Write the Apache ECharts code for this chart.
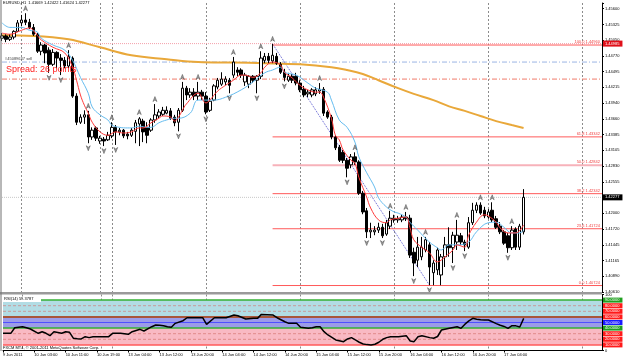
<!DOCTYPE html>
<html>
<head>
<meta charset="utf-8">
<script src="https://cdn.jsdelivr.net/npm/echarts@6.0.0/dist/echarts.min.js"></script>
<style>
  html, body { margin: 0; padding: 0; background: #fff; }
  #chart { width: 625px; height: 361px; }
</style>
</head>
<body>
<div id="chart"></div>
<script>
// EURUSD H1, 9 - 17 Jun 2011

const timeLabels = ['9 Jun 2011', '10 Jun 03:00', '10 Jun 11:00', '10 Jun 19:00', '13 Jun 04:00', '13 Jun 12:00',
  '13 Jun 20:00', '14 Jun 04:00', '14 Jun 12:00', '14 Jun 20:00', '15 Jun 04:00', '15 Jun 12:00',
  '15 Jun 20:00', '16 Jun 04:00', '16 Jun 12:00', '16 Jun 20:00', '17 Jun 04:00'];

// right scale labels, bottom to top
const priceTicks = ['1.40610', '1.40890', '1.41165', '1.41445', '1.41720', '1.42000', '1.42280', '1.42555',
  '1.42830', '1.43105', '1.43385', '1.43660', '1.43940', '1.44215', '1.44495', '1.44770', '1.45050',
  '1.45325', '1.45600'];

const opens = [
  1.4508, 1.4512, 1.4506, 1.4510, 1.4520, 1.4535, 1.4540, 1.4536, 1.4527, 1.4515,
  1.4485, 1.4496, 1.4487, 1.4462, 1.4483, 1.4473, 1.4469, 1.4459, 1.4473, 1.4406,
  1.4360, 1.4369, 1.4373, 1.4334, 1.4350, 1.4327, 1.4330, 1.4329, 1.4336, 1.4351,
  1.4343, 1.4346, 1.4339, 1.4337, 1.4344, 1.4357, 1.4362, 1.4351, 1.4346, 1.4364,
  1.4371, 1.4374, 1.4376, 1.4380, 1.4369, 1.4360, 1.4381, 1.4420, 1.4408, 1.4413,
  1.4406, 1.4413, 1.4406, 1.4381, 1.4399, 1.4422, 1.4427, 1.4431, 1.4434, 1.4443,
  1.4452, 1.4452, 1.4431, 1.4427, 1.4441, 1.4434, 1.4441, 1.4469, 1.4476, 1.4468,
  1.4476, 1.4462, 1.4448, 1.4434, 1.4441, 1.4441, 1.4429, 1.4418, 1.4410, 1.4408,
  1.4410, 1.4415, 1.4418, 1.4378, 1.4369, 1.4334, 1.4316, 1.4307, 1.4293, 1.4285,
  1.4299, 1.4290, 1.4235, 1.4204, 1.4167, 1.4167, 1.4170, 1.4175, 1.4163, 1.4177,
  1.4191, 1.4188, 1.4188, 1.4193, 1.4191, 1.4131, 1.4117, 1.4123, 1.4135, 1.4144,
  1.4095, 1.4100, 1.4091, 1.4123, 1.4144, 1.4139, 1.4149, 1.4160, 1.4149, 1.4140,
  1.4183, 1.4205, 1.4214, 1.4205, 1.4193, 1.4205, 1.4190, 1.4177, 1.4167, 1.4160,
  1.4139, 1.4172, 1.4140, 1.41669];
const closes = [
  1.4512, 1.4506, 1.4510, 1.4520, 1.4535, 1.4540, 1.4536, 1.4527, 1.4515, 1.4485,
  1.4496, 1.4482, 1.4462, 1.4483, 1.4473, 1.4469, 1.4459, 1.4476, 1.4406, 1.4360,
  1.4369, 1.4373, 1.4334, 1.4346, 1.4332, 1.4332, 1.4327, 1.4337, 1.4351, 1.4343,
  1.4346, 1.4336, 1.4336, 1.4346, 1.4359, 1.4366, 1.4343, 1.4337, 1.4364, 1.4373,
  1.4378, 1.4381, 1.4381, 1.4367, 1.4359, 1.4381, 1.4420, 1.4408, 1.4413, 1.4406,
  1.4413, 1.4406, 1.4378, 1.4397, 1.4424, 1.4434, 1.4436, 1.4436, 1.4425, 1.4466,
  1.4448, 1.4443, 1.4443, 1.4441, 1.4434, 1.4441, 1.4473, 1.4476, 1.4469, 1.4478,
  1.4464, 1.4448, 1.4439, 1.4441, 1.4434, 1.4429, 1.4417, 1.4408, 1.4413, 1.4417,
  1.4417, 1.4418, 1.4376, 1.4369, 1.4334, 1.4315, 1.4293, 1.4293, 1.4279, 1.4299,
  1.4290, 1.4235, 1.4202, 1.4167, 1.4170, 1.4170, 1.4175, 1.4160, 1.4183, 1.4191,
  1.4188, 1.4190, 1.4193, 1.4190, 1.4126, 1.4112, 1.4140, 1.4140, 1.4153, 1.4105,
  1.4112, 1.4135, 1.4123, 1.4144, 1.4139, 1.4161, 1.4161, 1.4149, 1.4144, 1.4183,
  1.4205, 1.4214, 1.4200, 1.4195, 1.4202, 1.4188, 1.4175, 1.4167, 1.4147, 1.4139,
  1.4170, 1.4140, 1.4177, 1.42277];
const lows = [
  1.4503, 1.4501, 1.4503, 1.4506, 1.4519, 1.4529, 1.4531, 1.4524, 1.4512, 1.4482,
  1.4478, 1.4464, 1.4447, 1.4459, 1.4455, 1.4443, 1.4455, 1.4455, 1.4403, 1.4355,
  1.4357, 1.4357, 1.4323, 1.4329, 1.4327, 1.4322, 1.4318, 1.4327, 1.4332, 1.4320,
  1.4337, 1.4332, 1.4330, 1.4334, 1.4323, 1.4318, 1.4325, 1.4323, 1.4343, 1.4359,
  1.4367, 1.4371, 1.4374, 1.4364, 1.4353, 1.4344, 1.4378, 1.4399, 1.4403, 1.4399,
  1.4399, 1.4399, 1.4374, 1.4378, 1.4397, 1.4418, 1.4424, 1.4425, 1.4411, 1.4438,
  1.4441, 1.4438, 1.4424, 1.4420, 1.4429, 1.4411, 1.4436, 1.4464, 1.4464, 1.4464,
  1.4461, 1.4445, 1.4432, 1.4431, 1.4429, 1.4425, 1.4413, 1.4404, 1.4404, 1.4404,
  1.4406, 1.4410, 1.4371, 1.4366, 1.4330, 1.4311, 1.4290, 1.4288, 1.4263, 1.4279,
  1.4285, 1.4232, 1.4198, 1.4156, 1.4156, 1.4161, 1.4165, 1.4156, 1.4160, 1.4172,
  1.4183, 1.4183, 1.4184, 1.4186, 1.4121, 1.4089, 1.4105, 1.4117, 1.4131, 1.4073,
  1.4073, 1.4091, 1.4073, 1.4105, 1.4123, 1.4112, 1.4135, 1.4144, 1.4133, 1.4137,
  1.4179, 1.4200, 1.4197, 1.4191, 1.4190, 1.4184, 1.4172, 1.4163, 1.4144, 1.4130,
  1.4135, 1.4135, 1.4135, 1.41624];
const highs = [
  1.4517, 1.4515, 1.4515, 1.4522, 1.4540, 1.4549, 1.4552, 1.4542, 1.4533, 1.4517,
  1.4501, 1.4498, 1.4492, 1.4489, 1.4485, 1.4480, 1.4475, 1.4487, 1.4476, 1.4411,
  1.4374, 1.4381, 1.4380, 1.4351, 1.4353, 1.4336, 1.4334, 1.4343, 1.4360, 1.4355,
  1.4350, 1.4348, 1.4343, 1.4350, 1.4364, 1.4369, 1.4366, 1.4360, 1.4367, 1.4392,
  1.4383, 1.4387, 1.4388, 1.4385, 1.4373, 1.4385, 1.4431, 1.4424, 1.4420, 1.4420,
  1.4431, 1.4417, 1.4413, 1.4403, 1.4427, 1.4438, 1.4448, 1.4441, 1.4438, 1.4475,
  1.4457, 1.4455, 1.4447, 1.4443, 1.4443, 1.4443, 1.4485, 1.4482, 1.4482, 1.4498,
  1.4482, 1.4466, 1.4454, 1.4447, 1.4445, 1.4447, 1.4434, 1.4424, 1.4417, 1.4420,
  1.4422, 1.4429, 1.4422, 1.4381, 1.4373, 1.4337, 1.4320, 1.4311, 1.4297, 1.4304,
  1.4307, 1.4293, 1.4239, 1.4209, 1.4183, 1.4177, 1.4183, 1.4181, 1.4188, 1.4204,
  1.4197, 1.4195, 1.4198, 1.4202, 1.4197, 1.4139, 1.4158, 1.4158, 1.4158, 1.4149,
  1.4117, 1.4139, 1.4128, 1.4158, 1.4175, 1.4167, 1.4188, 1.4165, 1.4153, 1.4193,
  1.4218, 1.4219, 1.4219, 1.4211, 1.4207, 1.4219, 1.4195, 1.4184, 1.4170, 1.4165,
  1.4177, 1.4175, 1.4181, 1.42422];

// moving averages, read at sampled bars
const fastMaBars = [0, 2, 5, 7, 9, 10, 13, 16, 18, 19, 20, 21, 22, 23, 25, 27, 29, 31, 33, 35, 36, 38, 40, 41, 43, 44,
  45, 46, 47, 50, 52, 53, 55, 57, 59, 61, 62, 64, 66, 67, 69, 71, 72, 74, 76, 78, 80, 81, 82, 84, 85, 86, 87, 89, 90,
  91, 93, 94, 96, 98, 99, 101, 103, 104, 105, 107, 109, 111, 113, 115, 116, 118, 119, 121, 123, 124, 126, 127, 129,
  131, 133];
const fastMa = [1.4517, 1.4515, 1.4522, 1.4526, 1.4513, 1.4505, 1.4492, 1.4482, 1.4457, 1.4434, 1.4408, 1.4390,
  1.4376, 1.4360, 1.4343, 1.4337, 1.4343, 1.4341, 1.4343, 1.4350, 1.4350, 1.4359, 1.4367, 1.4371, 1.4369, 1.4362,
  1.4369, 1.4381, 1.4392, 1.4411, 1.4394, 1.4399, 1.4415, 1.4425, 1.4434, 1.4443, 1.4443, 1.4439, 1.4447, 1.4457,
  1.4466, 1.4461, 1.4448, 1.4438, 1.4425, 1.4417, 1.4413, 1.4413, 1.4404, 1.4367, 1.4337, 1.4329, 1.4311, 1.4293,
  1.4288, 1.4263, 1.4228, 1.4209, 1.4188, 1.4183, 1.4188, 1.4191, 1.4193, 1.4175, 1.4153, 1.4140, 1.4130, 1.4114,
  1.4123, 1.4135, 1.4144, 1.4140, 1.4161, 1.4184, 1.4197, 1.4195, 1.4184, 1.4174, 1.4165, 1.4165, 1.4179];
const slowMaBars = [0, 2, 5, 7, 9, 10, 13, 16, 18, 20, 22, 23, 25, 27, 28, 30, 32, 33, 35, 37, 38, 40, 42, 44, 45, 48,
  50, 54, 57, 61, 64, 67, 69, 71, 72, 75, 78, 80, 83, 84, 86, 88, 90, 91, 93, 95, 96, 98, 100, 101, 103, 104, 106,
  109, 111, 112, 114, 116, 119, 121, 124, 126, 128, 130, 132, 133];
const slowMa = [1.4535, 1.4527, 1.4527, 1.4522, 1.4519, 1.4508, 1.4496, 1.4487, 1.4469, 1.4439, 1.4411, 1.4387,
  1.4373, 1.4364, 1.4355, 1.4351, 1.4350, 1.4350, 1.4353, 1.4351, 1.4351, 1.4359, 1.4364, 1.4367, 1.4367, 1.4376,
  1.4399, 1.4399, 1.4404, 1.4417, 1.4431, 1.4447, 1.4452, 1.4457, 1.4448, 1.4443, 1.4429, 1.4420, 1.4413, 1.4399,
  1.4364, 1.4351, 1.4325, 1.4299, 1.4271, 1.4246, 1.4227, 1.4211, 1.4202, 1.4200, 1.4193, 1.4184, 1.4170, 1.4149,
  1.4139, 1.4135, 1.4144, 1.4144, 1.4149, 1.4167, 1.4183, 1.4184, 1.4175, 1.4165, 1.4165, 1.4170];
const longMaBars = [0, 8, 17, 25, 33, 42, 50, 59, 67, 76, 84, 88, 92, 96, 101, 105, 110, 114, 118, 122, 126, 130, 133];
const longMa = [1.4513, 1.4512, 1.4506, 1.4492, 1.4478, 1.4471, 1.4466, 1.4465, 1.4464, 1.4462, 1.4457, 1.4452,
  1.4445, 1.4434, 1.4420, 1.4410, 1.4399, 1.4388, 1.4380, 1.4371, 1.4362, 1.4355, 1.4350];

// fractal bars
const fractalUp = [6, 17, 22, 28, 35, 39, 46, 50, 59, 66, 69, 81, 90, 99, 103, 108, 116, 122, 125, 130];
const fractalDown = [12, 15, 22, 26, 29, 45, 52, 58, 65, 72, 88, 93, 97, 105, 109, 115, 118, 129];

// fibonacci retracement
const fibStart = 69, fibEnd = 109;
const fibPct = ['0.0', '23.6', '38.2', '50.0', '61.8', '100.0'];
const fibPrice = [1.40724, 1.41724, 1.42342, 1.42842, 1.43342, 1.44960];

// horizontal objects
const alertPrice = 1.44985;
const orderPrice = 1.4466;
const stopPrice = 1.4436;
const lastPrice = 1.42277;

// RSI(14)
const rsiBars = [0, 2, 3, 5, 6, 7, 9, 10, 11, 12, 13, 15, 16, 17, 18, 19, 20, 21, 22, 23, 25, 27, 28, 30, 32, 33, 35,
  36, 38, 39, 40, 41, 42, 43, 44, 46, 47, 50, 51, 52, 54, 57, 59, 60, 62, 64, 65, 66, 69, 70, 72, 73, 75, 76, 78, 79,
  80, 81, 82, 83, 85, 87, 88, 89, 90, 91, 92, 93, 94, 95, 96, 97, 98, 99, 101, 103, 104, 105, 106, 107, 109, 110,
  111, 112, 114, 116, 117, 118, 119, 120, 121, 122, 123, 124, 126, 127, 128, 129, 130, 131, 132, 133];
const rsiValues = [30.7, 30.7, 40.7, 42.5, 40.7, 38.4, 30.7, 33.6, 30.7, 26.5, 33.6, 30.7, 33.6, 32.5, 21.8, 21, 20.6,
  24.7, 23, 24.7, 24.7, 24.7, 30.7, 30.7, 29, 33.6, 37.8, 34.8, 42.5, 45.5, 45, 44.3, 42.5, 41.4, 48.5, 53.2, 58.5,
  58.5, 58.5, 46.7, 58.5, 58.5, 63.3, 62.1, 56.2, 57.4, 57.4, 64.5, 63.3, 58.5, 51.4, 48.5, 48.5, 41.4, 39.6, 40.7,
  42.5, 42.5, 33.6, 27.7, 18.8, 15.8, 20.6, 23, 18.8, 14.7, 11.7, 10.5, 10, 11.1, 14.7, 20, 23, 24.7, 24.7, 26.5, 17,
  15.8, 24.7, 26.5, 23, 21.8, 25, 36.6, 39.6, 42.5, 39.6, 47, 53, 57.4, 56, 55, 54.4, 54.4, 48, 45, 43, 39.6, 44.3,
  44, 42, 57.4];
const rsiLevels = [90, 80, 70, 60, 50, 40, 30, 20, 10];

// bars carrying a vertical grid line
const gridBars = [5, 25, 28, 52, 76, 100, 124, 148];

const N = 154;
const cats = [];
for (let i = 0; i < N; i++) cats.push(String(i));

const FONT = 'Liberation Sans';
const tickStep = (1.456 - 1.4061) / 18;
const pMin = 1.4061, pMax = 1.457;

function pairs(bars, vals) {
  return bars.map((b, k) => [b, vals[k]]);
}
// a straight object line drawn as its own series
function objLine(xi, yi, from, to, value, color, type, width, endLabel, z) {
  return {
    type: 'line', xAxisIndex: xi, yAxisIndex: yi, silent: true, z: z == null ? 1 : z,
    data: [[from, value], [to, value]],
    showSymbol: false, symbol: 'none',
    lineStyle: {color: color, type: type, width: width, opacity: 1},
    endLabel: endLabel || {show: false},
    emphasis: {disabled: true}
  };
}
function boxLabel(text, bg, pad) {
  return {show: true, formatter: text, color: '#fff', backgroundColor: bg, fontSize: 4, fontFamily: FONT,
    padding: pad || [1, 3, 1, 2], distance: 1, align: 'left', verticalAlign: 'middle'};
}
const sepLine = {
  show: true,
  interval: (i) => gridBars.indexOf(i) >= 0,
  lineStyle: {color: '#8c8c8c', type: [2, 2], width: 1}
};

let myChart = echarts.init(document.getElementById('chart'), null, {renderer: 'canvas'});

let candles = opens.map((o, i) => [o, closes[i], lows[i], highs[i]]);

let series = [];

// full-width object lines in the price window
series.push(objLine(0, 0, 0, N - 1, alertPrice, '#f4a0aa', 'dotted', 1, boxLabel(alertPrice.toFixed(5), '#e0101a')));
series.push(objLine(0, 0, 0, N - 1, orderPrice, '#9cb4e4', [5, 2, 1, 2], 1));
series.push(objLine(0, 0, 0, N - 1, stopPrice, '#f07a6a', [5, 2, 1, 2], 1));
series.push(objLine(0, 0, 0, N - 1, lastPrice, '#c8c8c8', 'dotted', 1, boxLabel(lastPrice.toFixed(5), '#000')));

// fibonacci levels
fibPrice.forEach((p, k) => {
  let half = fibPct[k] === '50.0';
  series.push(objLine(0, 0, fibStart, N - 1, p, half ? '#f7b2ba' : '#ff5a5a', 'solid', half ? 2 : 1,
    {show: true, formatter: fibPct[k] + ' ' + p.toFixed(5), color: '#f04040', fontSize: 4, fontFamily: FONT,
      align: 'right', verticalAlign: 'bottom', distance: 0, offset: [-2, -1]}, 2.5));
});
// fibonacci anchor line
series.push({
  type: 'line', xAxisIndex: 0, yAxisIndex: 0, silent: true, z: 1,
  data: [[fibStart, highs[fibStart]], [fibEnd, lows[fibEnd]]],
  showSymbol: false, symbol: 'none', lineStyle: {color: '#5a5ad0', type: 'dotted', width: 1}
});

series.push({
  type: 'line', xAxisIndex: 0, yAxisIndex: 0, data: pairs(longMaBars, longMa), silent: true,
  showSymbol: false, symbol: 'none', smooth: 0.4, lineStyle: {color: '#e9a83a', width: 2}, z: 2
});
series.push({
  name: 'EURUSD,H1', type: 'candlestick', xAxisIndex: 0, yAxisIndex: 0,
  data: candles, barWidth: 3, z: 3,
  itemStyle: {color: '#fff', color0: '#000', borderColor: '#000', borderColor0: '#000', borderWidth: 1}
});
series.push({
  type: 'line', xAxisIndex: 0, yAxisIndex: 0, data: pairs(slowMaBars, slowMa), silent: true,
  showSymbol: false, symbol: 'none', smooth: 0.4, lineStyle: {color: '#66bdf0', width: 1}, z: 4
});
series.push({
  type: 'line', xAxisIndex: 0, yAxisIndex: 0, data: pairs(fastMaBars, fastMa), silent: true,
  showSymbol: false, symbol: 'none', smooth: 0.4, lineStyle: {color: '#ff3b3b', width: 1}, z: 4
});

let upArrow = 'path://M5,0 L10,10 L5,7 L0,10 Z';
series.push({
  type: 'scatter', xAxisIndex: 0, yAxisIndex: 0, z: 5, silent: true,
  data: fractalUp.map(b => [b, highs[b]]),
  symbol: upArrow, symbolSize: [4, 5], symbolOffset: [0, -5],
  itemStyle: {color: '#8a8a8a', borderColor: '#2a2a2a', borderWidth: 0.5}
});
series.push({
  type: 'scatter', xAxisIndex: 0, yAxisIndex: 0, z: 5, silent: true,
  data: fractalDown.map(b => [b, lows[b]]),
  symbol: upArrow, symbolRotate: 180, symbolSize: [4, 5], symbolOffset: [0, 5],
  itemStyle: {color: '#8a8a8a', borderColor: '#2a2a2a', borderWidth: 0.5}
});

// RSI window: coloured zones, levels, line
series.push({
  type: 'line', xAxisIndex: 1, yAxisIndex: 2, data: [], silent: true, z: 0,
  markArea: {silent: true, data: [
    [{yAxis: 90, itemStyle: {color: '#b2dce4'}}, {yAxis: 60}],
    [{yAxis: 60, itemStyle: {color: '#9c9ce8'}}, {yAxis: 40}],
    [{yAxis: 40, itemStyle: {color: '#f9b9c3'}}, {yAxis: 10}]
  ]}
});
let levelStyle = {
  90: ['#34b034', 'solid', 1.5, '#1f9f1f'],
  80: ['#c79a9a', [3, 2], 1, '#ff1a1a'],
  70: ['#c79a9a', [3, 2], 1, '#ff1a1a'],
  60: ['#a8563a', 'solid', 2, '#ff1a1a'],
  50: ['#5050ff', 'solid', 1, '#1a1aff'],
  40: ['#34b034', 'solid', 1.5, '#1f9f1f'],
  30: ['#e08a8a', [3, 2], 1, '#ff1a1a'],
  20: ['#e08a8a', [3, 2], 1, '#ff1a1a'],
  10: ['#ff5a5a', 'solid', 1.5, '#ff1a1a']
};
rsiLevels.forEach(v => {
  let st = levelStyle[v];
  series.push(objLine(1, 2, 0, N - 1, v, st[0], st[1], st[2], boxLabel(v + '.0000', st[3], [0.5, 3, 0.5, 2]), 2));
});
series.push({
  name: 'RSI(14)', type: 'line', xAxisIndex: 1, yAxisIndex: 2, data: pairs(rsiBars, rsiValues), silent: true,
  showSymbol: false, symbol: 'none', lineStyle: {color: '#000', width: 1.5}, z: 5
});

let option = {
  animation: false,
  backgroundColor: '#fff',
  textStyle: {fontFamily: FONT},
  grid: [
    {left: 2, top: 3, width: 600, height: 289},
    {left: 2, top: 294.5, width: 600, height: 56}
  ],
  xAxis: [
    {gridIndex: 0, type: 'category', data: cats, boundaryGap: false,
      axisLine: {show: false}, axisTick: {show: false}, axisLabel: {show: false}, splitLine: sepLine},
    {gridIndex: 1, type: 'category', data: cats, boundaryGap: false,
      axisLine: {show: true, lineStyle: {color: '#000', width: 1}},
      axisTick: {show: true, length: 2, lineStyle: {color: '#000'},
        interval: (i) => i % 8 === 0 && i / 8 < timeLabels.length},
      axisLabel: {interval: (i) => i % 8 === 0 && i / 8 < timeLabels.length,
        formatter: (v, i) => timeLabels[i / 8] || '', align: 'left', fontSize: 4, fontFamily: FONT,
        color: '#000', margin: 2},
      splitLine: sepLine}
  ],
  yAxis: [
    {gridIndex: 0, type: 'value', min: pMin, max: pMax, position: 'right', show: false},
    {gridIndex: 0, type: 'value', min: 0, max: (pMax - pMin) / tickStep, interval: 1, position: 'right',
      axisLine: {show: true, lineStyle: {color: '#000', width: 1}},
      axisTick: {show: true, length: 2, lineStyle: {color: '#000'}},
      axisLabel: {fontSize: 4, fontFamily: FONT, color: '#000', margin: 3,
        formatter: (v) => {
          let k = Math.round(v);
          return Math.abs(v - k) < 1e-6 && priceTicks[k] ? priceTicks[k] : '';
        }},
      splitLine: {show: false}},
    {gridIndex: 1, type: 'value', min: 0, max: 100, interval: 100, position: 'right',
      axisLine: {show: true, lineStyle: {color: '#000', width: 1}},
      axisTick: {show: true, length: 2, lineStyle: {color: '#000'}},
      axisLabel: {fontSize: 4, fontFamily: FONT, color: '#000', margin: 3},
      splitLine: {show: false}}
  ],
  series: series,
  graphic: [
    {type: 'rect', shape: {x: 0, y: 292, width: 602, height: 2.5}, style: {fill: '#9a9a9a'}, z: 100},
    {type: 'line', shape: {x1: 1, y1: 0, x2: 1, y2: 351}, style: {stroke: '#707070', lineWidth: 1}, z: 100},
    {type: 'text', left: 3, top: 1, z: 100,
      style: {text: 'EURUSD,H1  1.41669 1.42422 1.41624 1.42277', font: '4px ' + FONT, fill: '#000'}},
    {type: 'text', left: 5, top: 57, z: 100,
      style: {text: '#45089637 sell', font: '4px ' + FONT, fill: '#404040'}},
    {type: 'text', left: 6, top: 65, z: 100,
      style: {text: 'Spread: 26 points', font: '9px ' + FONT, fill: '#ff2020'}},
    {type: 'rect', shape: {x: 3, y: 297, width: 38, height: 5}, style: {fill: '#fff'}, z: 100},
    {type: 'text', left: 4, top: 297, z: 101,
      style: {text: 'RSI(14) 59.3787', font: '4px ' + FONT, fill: '#000'}},
    {type: 'text', left: 3, top: 345.5, z: 100,
      style: {text: 'FXCM MT4, \u00a9 2001-2011 MetaQuotes Software Corp.', font: '4px ' + FONT, fill: '#000'}}
  ]
};

myChart.setOption(option, true);
window.addEventListener('resize', () => {
  myChart.resize();
});
</script>
</body>
</html>
